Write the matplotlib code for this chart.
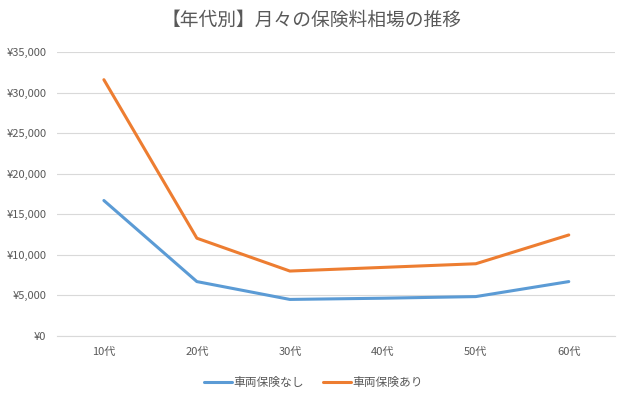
import matplotlib
matplotlib.use('Agg')
import matplotlib.pyplot as plt
from matplotlib.ticker import FuncFormatter

plt.rcParams['font.family'] = ['Noto Sans CJK JP', 'DejaVu Sans']

# 年代別の保険料（月額、円）
nendai = ['10代', '20代', '30代', '40代', '50代', '60代']
sharyo_nashi = [16700, 6700, 4500, 4650, 4850, 6700]
sharyo_ari = [31600, 12050, 8000, 8450, 8900, 12450]

gray = '#595959'

fig = plt.figure(figsize=(6.24, 3.98), dpi=100)
ax = fig.add_axes([0.092, 0.156, 0.894, 0.713])

x = range(len(nendai))
ax.plot(x, sharyo_nashi, color='#5B9BD5', linewidth=2.2, label='車両保険なし',
        solid_joinstyle='round', solid_capstyle='round')
ax.plot(x, sharyo_ari, color='#ED7D31', linewidth=2.2, label='車両保険あり',
        solid_joinstyle='round', solid_capstyle='round')

ax.set_xlim(-0.5, len(nendai) - 0.5)
ax.set_ylim(0, 35000)
ax.set_yticks(range(0, 35001, 5000))
ax.yaxis.set_major_formatter(FuncFormatter(lambda v, p: '¥{:,.0f}'.format(v)))
ax.set_xticks(list(x))
ax.set_xticklabels(nendai)

ax.grid(axis='y', color='#D9D9D9', linewidth=0.8)
ax.set_axisbelow(True)
for s in ['top', 'right', 'left']:
    ax.spines[s].set_visible(False)
ax.spines['bottom'].set_color('#D9D9D9')
ax.tick_params(axis='both', length=0, labelsize=8, colors=gray, pad=8)

fig.suptitle('【年代別】月々の保険料相場の推移', y=0.975, fontsize=13.5, color=gray)

fig.legend(loc='lower center', bbox_to_anchor=(0.502, -0.005), ncol=2, frameon=False,
           fontsize=8.5, labelcolor=gray, handlelength=2.4, columnspacing=1.6,
           handletextpad=0.1)

fig.savefig('out.png', dpi=100)
